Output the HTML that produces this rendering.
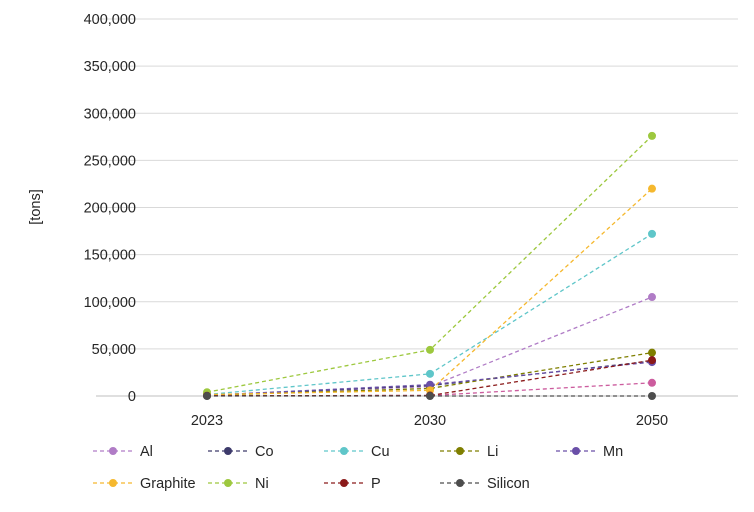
<!DOCTYPE html>
<html><head><meta charset="utf-8"><style>
body{margin:0;background:#fff;font-family:"Liberation Sans",sans-serif}
svg text{font-family:"Liberation Sans",sans-serif;fill:#262626}
</style></head><body>
<svg id="c" width="754" height="507"></svg>
<script>
const years=["2023","2030","2050"];
const names=["Al","Co","Cu","Li","Mn","Graphite","Ni","P","Silicon","Other"];
const colors=["#b07cc6","#3d3a6b","#5fc6c9","#7f7f00","#6a4fa8","#f5b82e","#9dc83e","#8b1a1a","#4d4d4d","#cc5c9e"];
const vAl=[1000,10000,105000];
const vCo=[800,11000,37000];
const vCu=[1500,23500,172000];
const vLi=[700,8000,46000];
const vMn=[800,12000,36000];
const vGraphite=[1500,6000,220000];
const vNi=[4000,49000,276000];
const vP=[300,500,38000];
const vSilicon=[0,0,0];
const vOther=[300,500,14000];
const series=[vAl,vCo,vCu,vLi,vMn,vGraphite,vNi,vP,vSilicon,vOther];
const drawOrder=[9,0,1,2,3,4,5,6,7,8];
const yTicks=[0,50000,100000,150000,200000,250000,300000,350000,400000];
const svg=document.getElementById('c');const NS="http://www.w3.org/2000/svg";
function mk(t,a,p){const e=document.createElementNS(NS,t);for(const k in a)e.setAttribute(k,a[k]);(p||svg).appendChild(e);return e;}
const y=v=>396-v/400000*377;
const x=i=>[207,430,652][i];
yTicks.forEach(t=>{
 const g=mk('line',{x1:96,x2:738,y1:y(t),y2:y(t),stroke:t?'#d9d9d9':'#bfbfbf'});
 
 
 const l=mk('text',{x:136,y:y(t)+5,'text-anchor':'end','font-size':14.5});l.textContent=t.toLocaleString('en-US');
 
 
});
years.forEach((yr,i)=>{const l=mk('text',{x:x(i),y:425,'text-anchor':'middle','font-size':14.5});l.textContent=yr;
 
 });
const yt=mk('text',{x:40,y:207,'text-anchor':'middle','font-size':14.5,transform:'rotate(-90 40 207)'});yt.textContent='[tons]';


drawOrder.forEach(k=>{
 const s=series[k];
 const g=mk('g',{});
 
 
 mk('polyline',{points:s.map((v,i)=>x(i)+','+y(v)).join(' '),fill:'none',stroke:colors[k],'stroke-width':1.3,'stroke-dasharray':'4,3'},g);
 s.forEach((v,i)=>{const c=mk('circle',{cx:x(i),cy:y(v),r:4,fill:colors[k]},g);
  
  });
});
const lx=[93,208,324,440,556];
names.slice(0,9).forEach((n,k)=>{
 const row=k<5?0:1,col=k<5?k:k-5;const X=lx[col],Y=row?483:451;
 const g=mk('g',{});
 
 
 mk('line',{x1:X,x2:X+40,y1:Y,y2:Y,stroke:colors[k],'stroke-width':1.3,'stroke-dasharray':'4,3'},g);
 mk('circle',{cx:X+20,cy:Y,r:4,fill:colors[k]},g);
 const t=mk('text',{x:X+47,y:Y+5,'font-size':14.5},g);t.textContent=n;
});
</script></body></html>
